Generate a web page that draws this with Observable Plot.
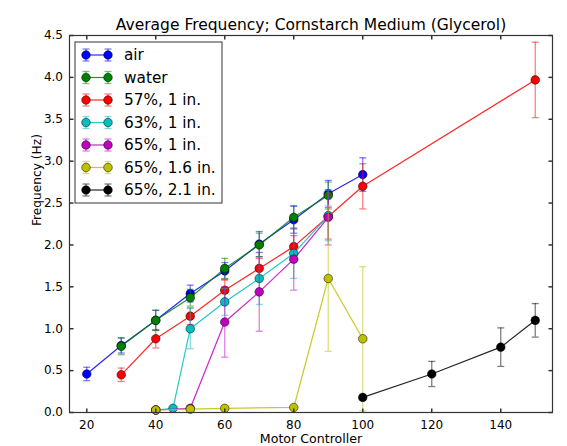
<!DOCTYPE html>
<html>
<head>
<meta charset="utf-8">
<script src="https://cdn.jsdelivr.net/npm/d3@7"></script>
<script src="https://cdn.jsdelivr.net/npm/@observablehq/plot@0.6"></script>
<style>
  html, body { margin: 0; padding: 0; background: #fff; }
  svg { font-family: "DejaVu Sans", sans-serif; }
</style>
</head>
<body>
<div id="chart"></div>
<script>
// ---- data ----
const seriesNames = ["air", "water", "57%, 1 in.", "63%, 1 in.", "65%, 1 in.", "65%, 1.6 in.", "65%, 2.1 in."];
const seriesColors = ["#0000ff", "#008000", "#ff0000", "#00bfbf", "#bf00bf", "#bfbf00", "#000000"];

const airX = [20, 30, 40, 50, 60, 70, 80, 90, 100];
const airY = [0.46, 0.80, 1.10, 1.42, 1.69, 2.01, 2.30, 2.61, 2.84];
const airErr = [0.08, 0.09, 0.12, 0.10, 0.10, 0.15, 0.16, 0.16, 0.20];

const waterX = [30, 40, 50, 60, 70, 80, 90];
const waterY = [0.79, 1.10, 1.37, 1.72, 2.00, 2.33, 2.59];
const waterErr = [0.10, 0.12, 0.10, 0.12, 0.14, 0.14, 0.16];

const g57X = [30, 40, 50, 60, 70, 80, 90, 100, 150];
const g57Y = [0.45, 0.88, 1.15, 1.46, 1.72, 1.98, 2.34, 2.70, 3.97];
const g57Err = [0.08, 0.11, 0.10, 0.12, 0.12, 0.13, 0.27, 0.27, 0.45];

const g63X = [40, 45, 50, 60, 70, 80, 90];
const g63Y = [0.03, 0.05, 1.00, 1.32, 1.60, 1.90, 2.35];
const g63Err = [0.01, 0.01, 0.24, 0.16, 0.31, 0.30, 0.30];

const g65aX = [40, 50, 60, 70, 80, 90];
const g65aY = [0.03, 0.05, 1.08, 1.44, 1.83, 2.33];
const g65aErr = [0.01, 0.02, 0.42, 0.47, 0.37, 0.33];

const g65bX = [40, 50, 60, 80, 90, 100];
const g65bY = [0.03, 0.04, 0.05, 0.06, 1.60, 0.88];
const g65bErr = [0.01, 0.02, 0.02, 0.02, 0.87, 0.86];

const g65cX = [100, 120, 140, 150];
const g65cY = [0.18, 0.46, 0.78, 1.10];
const g65cErr = [0.03, 0.15, 0.23, 0.20];

const xTicks = [20, 40, 60, 80, 100, 120, 140];
const yTicks = [0.0, 0.5, 1.0, 1.5, 2.0, 2.5, 3.0, 3.5, 4.0, 4.5];

const titleText = "Average Frequency; Cornstarch Medium (Glycerol)";
const xLabel = "Motor Controller";
const yLabel = "Frequency (Hz)";

// ---- build table ----
const seriesData = [
  [airX, airY, airErr], [waterX, waterY, waterErr], [g57X, g57Y, g57Err],
  [g63X, g63Y, g63Err], [g65aX, g65aY, g65aErr], [g65bX, g65bY, g65bErr], [g65cX, g65cY, g65cErr]
];
const tables = seriesData.map(([xs, ys, es], i) =>
  xs.map((x, j) => ({series: seriesNames[i], x, y: ys[j], e: es[j]})));

const capSym = {draw(ctx) { ctx.moveTo(-3.5, 0); ctx.lineTo(3.5, 0); }};
const tickUp = {draw(ctx) { ctx.moveTo(0, 0); ctx.lineTo(0, -4); }};
const tickDown = {draw(ctx) { ctx.moveTo(0, 0); ctx.lineTo(0, 4); }};
const tickRight = {draw(ctx) { ctx.moveTo(0, 0); ctx.lineTo(4, 0); }};
const tickLeft = {draw(ctx) { ctx.moveTo(0, 0); ctx.lineTo(-4, 0); }};

const marks = [];
tables.forEach(rows => {
  marks.push(Plot.ruleX(rows, {x: "x", y1: d => d.y - d.e, y2: d => d.y + d.e, stroke: "series", strokeOpacity: 0.5, strokeWidth: 1.3}));
  marks.push(Plot.dot(rows, {x: "x", y: d => d.y - d.e, symbol: capSym, stroke: "series", strokeOpacity: 0.5, fill: "none", strokeWidth: 1.3}));
  marks.push(Plot.dot(rows, {x: "x", y: d => d.y + d.e, symbol: capSym, stroke: "series", strokeOpacity: 0.5, fill: "none", strokeWidth: 1.3}));
  marks.push(Plot.line(rows, {x: "x", y: "y", stroke: "series", strokeWidth: 1.2, strokeOpacity: 0.85}));
  marks.push(Plot.dot(rows, {x: "x", y: "y", fill: "series", stroke: "#000", strokeWidth: 0.5, r: 4.3}));
});

const fontSize = 12;
const plot = Plot.plot({
  width: 567,
  height: 446,
  marginLeft: 69,
  marginRight: 15,
  marginTop: 35,
  marginBottom: 34,
  style: {fontFamily: "DejaVu Sans, sans-serif", fontSize: fontSize + "px", color: "#000", background: "#fff"},
  x: {domain: [15, 155]},
  y: {domain: [0, 4.5]},
  color: {domain: seriesNames, range: seriesColors},
  marks: [
    ...marks,
    Plot.frame({stroke: "#333", strokeWidth: 1.2}),
    Plot.dot(xTicks, {x: d => d, frameAnchor: "bottom", symbol: tickUp, stroke: "#333", fill: "none"}),
    Plot.dot(xTicks, {x: d => d, frameAnchor: "top", symbol: tickDown, stroke: "#333", fill: "none"}),
    Plot.dot(yTicks, {y: d => d, frameAnchor: "left", symbol: tickRight, stroke: "#333", fill: "none"}),
    Plot.dot(yTicks, {y: d => d, frameAnchor: "right", symbol: tickLeft, stroke: "#333", fill: "none"}),
    Plot.axisX(xTicks, {anchor: "bottom", tickSize: 0, tickPadding: 8, label: null, fontSize: fontSize}),
    Plot.axisY(yTicks, {anchor: "left", tickSize: 0, tickPadding: 6.5, tickFormat: d => d.toFixed(1), label: null, fontSize: fontSize}),
    Plot.text([xLabel], {text: d => d, frameAnchor: "bottom", dy: 21.5, lineAnchor: "top", fontSize: 12.6}),
    Plot.text([yLabel], {text: d => d, frameAnchor: "left", dx: -32, dy: 2, rotate: -90, lineAnchor: "middle", fontSize: 12.2}),
    Plot.text([titleText], {text: d => d, frameAnchor: "top", dy: -6, lineAnchor: "bottom", fontSize: 15.5})
  ]
});

// legend inside the axes (top-left)
const svg = d3.select(plot);
const lg = svg.append("g").attr("transform", "translate(75,42)");
lg.append("rect").attr("width", 147).attr("height", 161).attr("fill", "#fff").attr("stroke", "#333").attr("stroke-width", 1);
seriesNames.forEach((name, i) => {
  const cy = 13 + i * 22.5;
  const c = seriesColors[i];
  const g = lg.append("g").attr("transform", `translate(0,${cy})`);
  [11, 33].forEach(cx => {
    g.append("line").attr("x1", cx).attr("x2", cx).attr("y1", -6).attr("y2", 6).attr("stroke", c).attr("stroke-opacity", 0.5).attr("stroke-width", 1.3);
    g.append("line").attr("x1", cx - 3.5).attr("x2", cx + 3.5).attr("y1", -6).attr("y2", -6).attr("stroke", c).attr("stroke-opacity", 0.5).attr("stroke-width", 1.3);
    g.append("line").attr("x1", cx - 3.5).attr("x2", cx + 3.5).attr("y1", 6).attr("y2", 6).attr("stroke", c).attr("stroke-opacity", 0.5).attr("stroke-width", 1.3);
  });
  g.append("line").attr("x1", 11).attr("x2", 33).attr("y1", 0).attr("y2", 0).attr("stroke", c).attr("stroke-opacity", 0.85).attr("stroke-width", 1.2);
  [11, 33].forEach(cx => {
    g.append("circle").attr("cx", cx).attr("cy", 0).attr("r", 4.3).attr("fill", c).attr("stroke", "#000").attr("stroke-width", 0.5);
  });
  g.append("text").attr("x", 49).attr("y", 0).attr("dy", "0.35em").attr("text-anchor", "start")
    .attr("font-size", 15.3).attr("fill", "#000").text(name);
});

document.getElementById("chart").appendChild(plot);
</script>
</body>
</html>
